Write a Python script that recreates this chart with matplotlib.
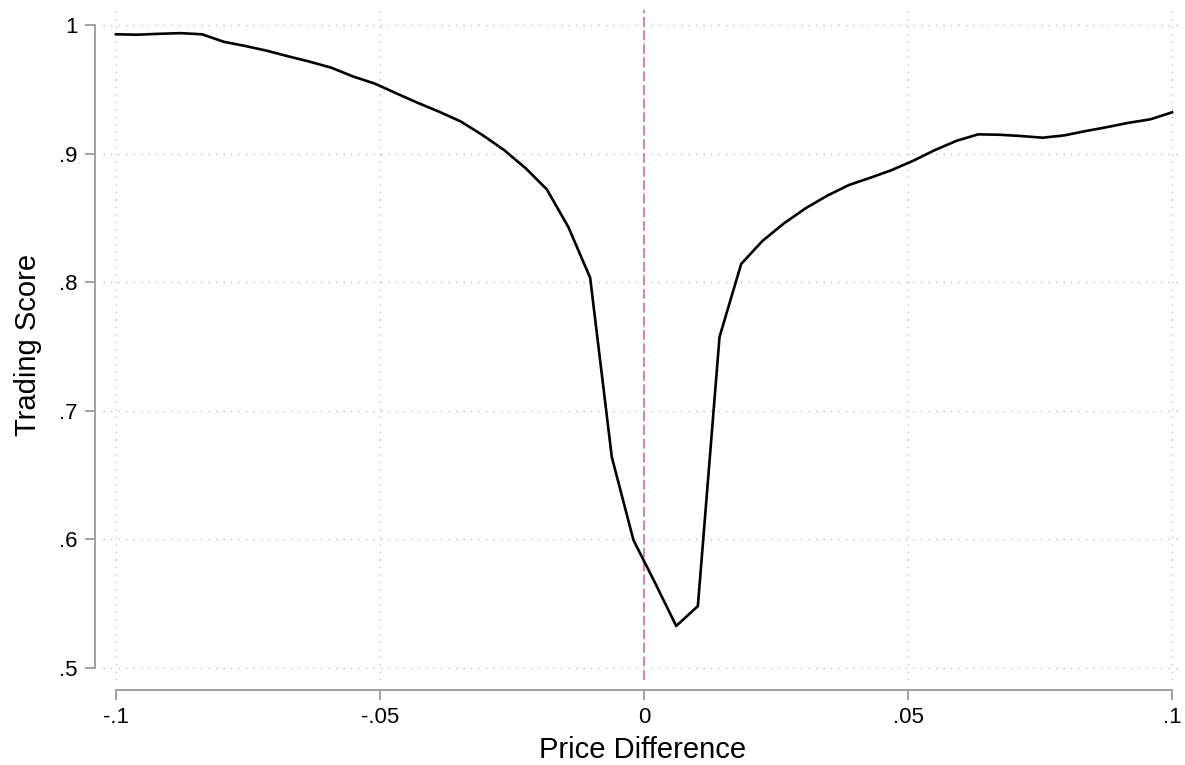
import matplotlib
matplotlib.use("Agg")
import matplotlib.pyplot as plt

plt.rcParams['font.family'] = ['Liberation Sans', 'DejaVu Sans']

# Price difference grid (50 evenly spaced points from -0.1 to 0.1)
price_diff = [-0.1, -0.0959, -0.0918, -0.0878, -0.0837, -0.0796, -0.0755, -0.0714,
              -0.0673, -0.0633, -0.0592, -0.0551, -0.0510, -0.0469, -0.0429, -0.0388,
              -0.0347, -0.0306, -0.0265, -0.0224, -0.0184, -0.0143, -0.0102, -0.0061,
              -0.0020, 0.0020, 0.0061, 0.0102, 0.0143, 0.0184, 0.0224, 0.0265,
              0.0306, 0.0347, 0.0388, 0.0429, 0.0469, 0.0510, 0.0551, 0.0592,
              0.0633, 0.0673, 0.0714, 0.0755, 0.0796, 0.0837, 0.0878, 0.0918,
              0.0959, 0.1]

trading_score = [0.9928, 0.9925, 0.9932, 0.9937, 0.9928, 0.9870, 0.9837, 0.9800,
                 0.9756, 0.9715, 0.9668, 0.9600, 0.9545, 0.9469, 0.9396, 0.9326,
                 0.9250, 0.9145, 0.9028, 0.8886, 0.8722, 0.8427, 0.8035, 0.6641,
                 0.5995, 0.5670, 0.5327, 0.5482, 0.7574, 0.8142, 0.8320, 0.8458,
                 0.8575, 0.8673, 0.8756, 0.8813, 0.8872, 0.8945, 0.9028, 0.9100,
                 0.9150, 0.9147, 0.9137, 0.9124, 0.9142, 0.9176, 0.9207, 0.9240,
                 0.9267, 0.9321]

x_ticks = [-0.1, -0.05, 0, 0.05, 0.1]
x_labels = ['-.1', '-.05', '0', '.05', '.1']
y_ticks = [0.5, 0.6, 0.7, 0.8, 0.9, 1.0]
y_labels = ['.5', '.6', '.7', '.8', '.9', '1']

fig = plt.figure(figsize=(11.85, 7.65), dpi=100)
ax = fig.add_axes([103 / 1185, 85 / 765, 1080 / 1185, 670 / 765])

axis_gray = '#a0a0a0'

ax.axvline(0, color='#d87fb5', linestyle=(0, (5, 2)), linewidth=1.4, zorder=2)
ax.plot(price_diff, trading_score, color='black', linewidth=1.9, zorder=3)

ax.set_xlim(-0.10246, 0.10208)
ax.set_ylim(0.4907, 1.0117)

ax.set_xticks(x_ticks)
ax.set_xticklabels(x_labels)
ax.set_yticks(y_ticks)
ax.set_yticklabels(y_labels)

ax.grid(True, color='#b4b4b4', linestyle=(0, (1, 5)), linewidth=0.9)
ax.set_axisbelow(True)

for side in ['top', 'right']:
    ax.spines[side].set_visible(False)
ax.spines['left'].set_position(('outward', 6))
ax.spines['bottom'].set_position(('outward', 7))
ax.spines['left'].set_bounds(0.5, 1.0)
ax.spines['bottom'].set_bounds(-0.1, 0.1)
for side in ['left', 'bottom']:
    ax.spines[side].set_color(axis_gray)
    ax.spines[side].set_linewidth(1.4)

ax.tick_params(axis='both', colors=axis_gray, length=7.5, width=1.4,
               labelcolor='black', labelsize=16, pad=5)

ax.set_xlabel('Price Difference', fontsize=21)
ax.set_ylabel('Trading Score', fontsize=21)
ax.xaxis.label.set_va('center')
ax.yaxis.label.set_va('center')
ax.xaxis.set_label_coords(0.5, -70 / 670)
ax.yaxis.set_label_coords(-75 / 1080, 0.5)

fig.savefig('out.png', dpi=100)
plt.close(fig)
